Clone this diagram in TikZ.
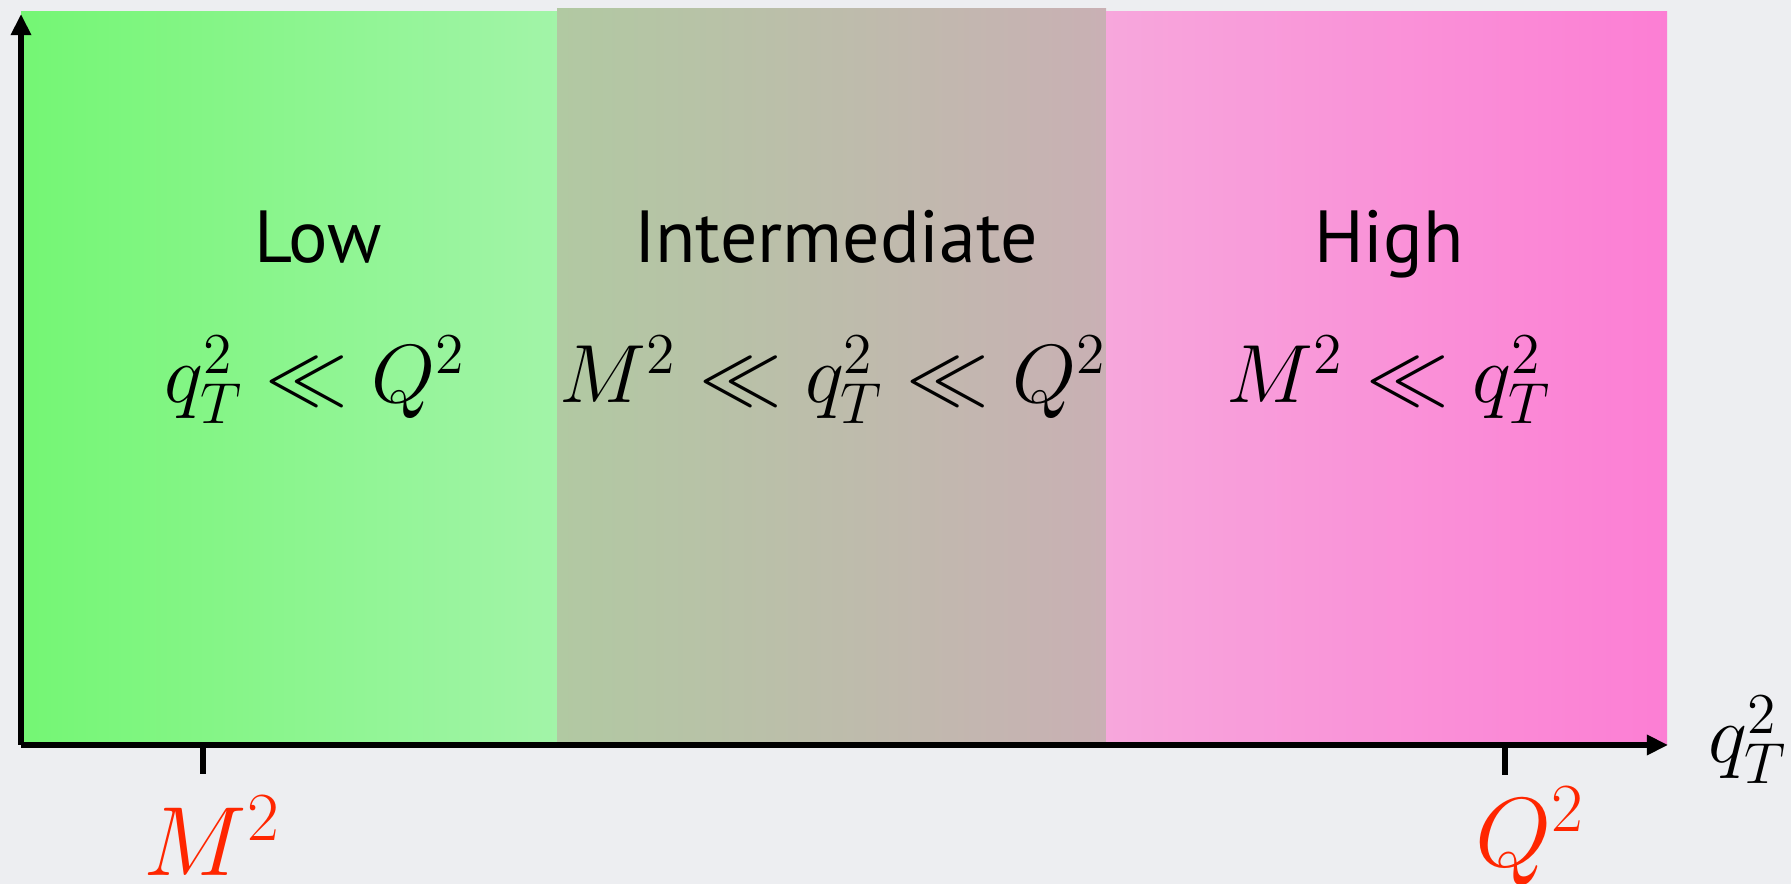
\RequirePackage{fix-cm}
\documentclass[tikz,border=0pt]{standalone}
\usepackage{fontspec}
\setmainfont{PT Sans}
\usepackage{tikz}
\usetikzlibrary{arrows.meta,positioning}
\definecolor{rgBack}{HTML}{EDEEF1}
\definecolor{rgLowL}{HTML}{74F674}
\definecolor{rgLowR}{HTML}{A2F4A8}
\definecolor{rgMidL}{HTML}{B1C9A2}
\definecolor{rgMidR}{HTML}{C9B0B4}
\definecolor{rgHighL}{HTML}{F7A7DC}
\definecolor{rgHighR}{HTML}{FC7ED4}
\definecolor{rgRed}{HTML}{FF2600}
\tikzset{
    regname/.style={anchor=base, inner sep=0pt, font=\fontsize{21}{25}\selectfont},
    regmath/.style={anchor=base, inner sep=0pt, font=\fontsize{23.5}{28}\selectfont},
    scalelabel/.style={anchor=base, inner sep=0pt, text=rgRed, font=\fontsize{28}{34}\selectfont},
    axis/.style={line width=1.8pt, -{Triangle[length=6pt,width=5.5pt]}},
    tick/.style={line width=1.8pt}
}

\begin{document}
\begin{tikzpicture}
    % Background
    \fill[rgBack] (0,0) rectangle (17.91,8.84);
    \useasboundingbox (0,0) rectangle (17.91,8.84);

    % Regions
    \shade[left color=rgLowL, right color=rgLowR] (0.21,1.39) rectangle (5.57,8.72);
    \shade[left color=rgMidL, right color=rgMidR] (5.57,1.39) rectangle (11.06,8.75);
    \shade[left color=rgHighL, right color=rgHighR] (11.06,1.39) rectangle (16.67,8.72);

    % Region names
    \node[regname] at (3.18,6.21) (low) {Low};
    \node[regname] at (8.36,6.21) (mid) {Intermediate};
    \node[regname] at (13.89,6.21) (high) {High};

    % Conditions
    \node[regmath] at (3.15,4.81) (lowcond) {$q_T^2 \ll Q^2$};
    \node[regmath] at (8.33,4.81) (midcond) {$M^2 \ll q_T^2 \ll Q^2$};
    \node[regmath] at (13.89,4.81) (highcond) {$M^2 \ll q_T^2$};

    % Axes
    \coordinate (origin) at (0.21,1.39);
    \coordinate (xend) at (16.68,1.39);
    \coordinate (yend) at (0.21,8.70);
    \draw[axis] (origin) -- (xend);
    \draw[axis] (origin) -- (yend);
    \node[regmath, anchor=base west] at (17.08,1.21) (qt) {$q_T^2$};

    % Ticks
    \coordinate (mtop) at (2.03,1.39);
    \coordinate (mbot) at (2.03,1.10);
    \coordinate (qtop) at (15.05,1.39);
    \coordinate (qbot) at (15.05,1.09);
    \draw[tick] (mtop) -- (mbot);
    \draw[tick] (qtop) -- (qbot);
    \node[scalelabel] at (2.12,0.08) (mlab) {$M^2$};
    \node[scalelabel] at (15.30,0.17) (qlab) {$Q^2$};
\end{tikzpicture}
\end{document}
